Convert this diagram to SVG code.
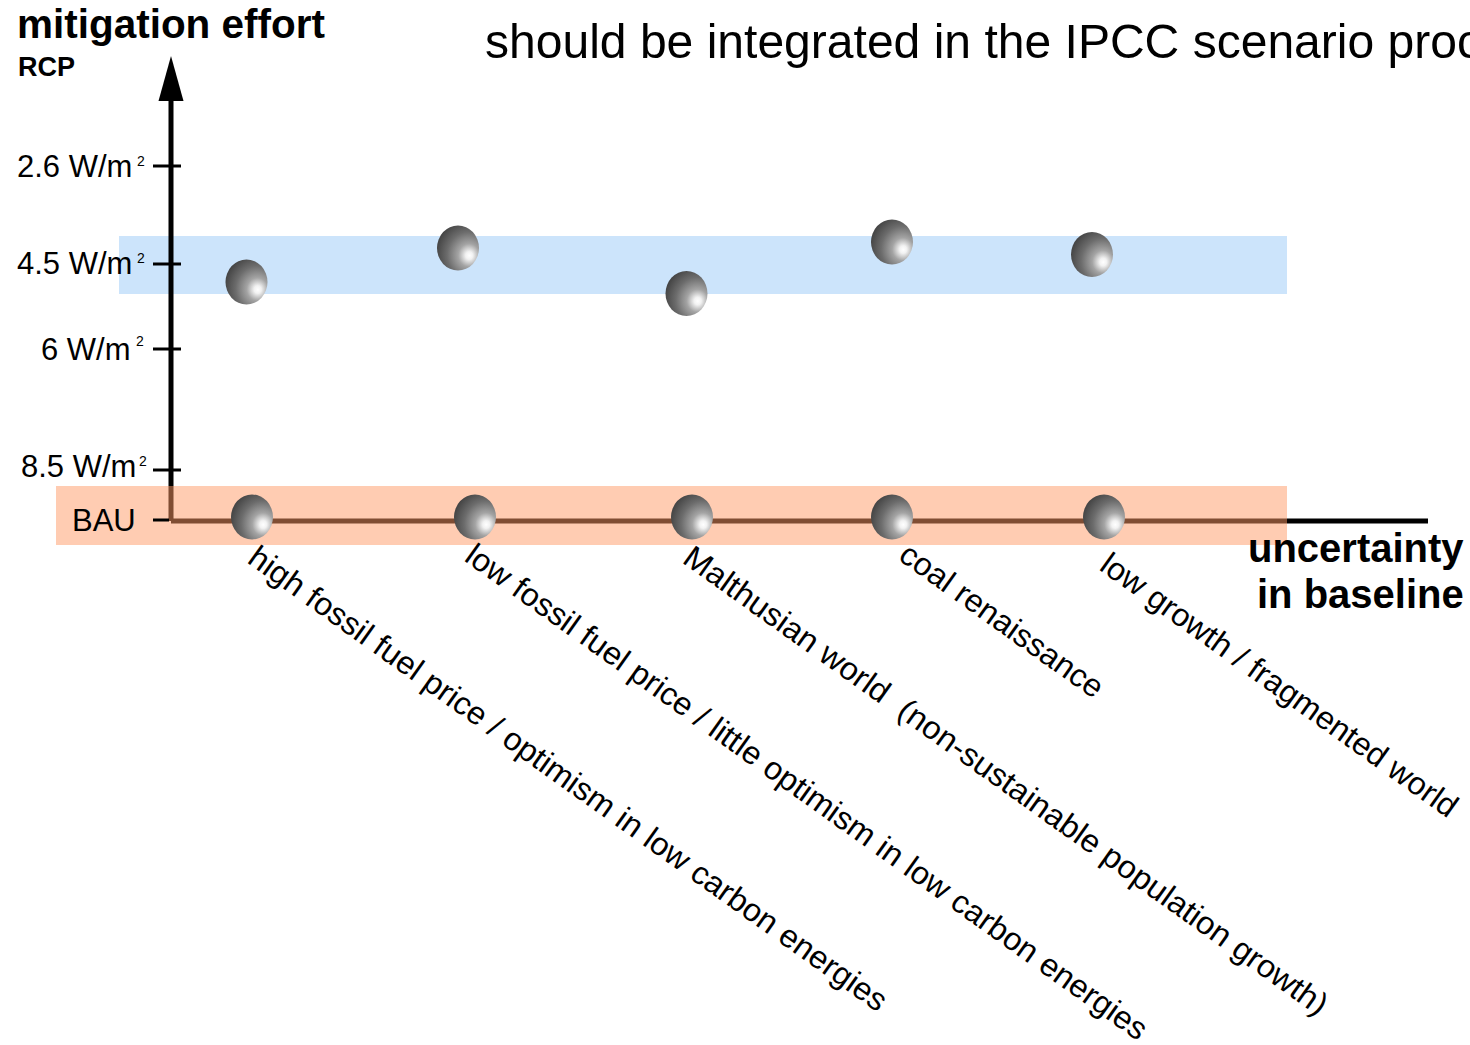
<svg xmlns="http://www.w3.org/2000/svg" width="1470" height="1045" viewBox="0 0 1470 1045">
<style>
.t{font-family:"Liberation Sans",Arial,sans-serif;fill:#000}
.b{font-weight:bold}
.ax{stroke:#000;stroke-width:5;fill:none}
.tk{stroke:#000;stroke-width:3;fill:none}
.lab{font-family:"Liberation Sans",Arial,sans-serif;font-size:31px;fill:#000}
.slab{font-family:"Liberation Sans",Arial,sans-serif;font-size:32px;fill:#000}
.sup{font-size:14px}
</style>
<defs>
<radialGradient id="ball" cx="0.74" cy="0.64" r="0.85" fx="0.77" fy="0.67">
<stop offset="0" stop-color="#ffffff"/>
<stop offset="0.1" stop-color="#f2f2f2"/>
<stop offset="0.3" stop-color="#a4a4a4"/>
<stop offset="0.6" stop-color="#6c6c6c"/>
<stop offset="1" stop-color="#383838"/>
</radialGradient>
</defs>
<rect width="1470" height="1045" fill="#fff"/>
<text class="t" x="485" y="58" font-size="48" textLength="996" lengthAdjust="spacingAndGlyphs">should be integrated in the IPCC scenario proc</text>
<text class="t b" x="17" y="38" font-size="40" textLength="308" lengthAdjust="spacingAndGlyphs">mitigation effort</text>
<text class="t b" x="18" y="76" font-size="27">RCP</text>
<rect id="band-rcp45" x="119" y="236" width="1168" height="58" fill="#cce4fb"/>
<g id="axes">
<line class="ax" x1="171" y1="521" x2="171" y2="95"/>
<polygon points="171,56 158.5,101 183.5,101" fill="#000"/>
<line class="ax" x1="171" y1="521" x2="1428" y2="521"/>
</g>
<rect id="band-bau" x="56" y="486" width="1231" height="59" fill="#ff9966" fill-opacity="0.5"/>
<g id="ticks">
<line class="tk" x1="153" y1="166" x2="181" y2="166"/>
<line class="tk" x1="153" y1="264" x2="181" y2="264"/>
<line class="tk" x1="153" y1="349" x2="181" y2="349"/>
<line class="tk" x1="153" y1="470" x2="181" y2="470"/>
<line class="tk" x1="153" y1="520" x2="169" y2="520"/>
</g>
<g id="ylabels" class="lab">
<text x="17" y="177">2.6 W/m<tspan class="sup" x="137" y="166">2</tspan></text>
<text x="17" y="274">4.5 W/m<tspan class="sup" x="137" y="263">2</tspan></text>
<text x="41" y="360">6 W/m<tspan class="sup" x="136" y="346">2</tspan></text>
<text x="21" y="477">8.5 W/m<tspan class="sup" x="139" y="466">2</tspan></text>
<text x="72" y="531">BAU</text>
</g>
<text class="t b" x="1248" y="562" font-size="40">uncertainty</text>
<text class="t b" x="1257" y="608" font-size="40">in baseline</text>
<g id="balls-bau" fill="url(#ball)">
<ellipse id="b1" cx="252" cy="517" rx="21" ry="22.5"/>
<ellipse id="b2" cx="475" cy="517" rx="21" ry="22.5"/>
<ellipse id="b3" cx="692" cy="517" rx="21" ry="22.5"/>
<ellipse id="b4" cx="892" cy="517" rx="21" ry="22.5"/>
<ellipse id="b5" cx="1104" cy="517" rx="21" ry="22.5"/>
</g>
<g id="balls-mit" fill="url(#ball)">
<ellipse id="m1" cx="246.5" cy="282" rx="21" ry="22.5"/>
<ellipse id="m2" cx="458" cy="248" rx="21" ry="22.5"/>
<ellipse id="m3" cx="686.5" cy="293.5" rx="21" ry="22.5"/>
<ellipse id="m4" cx="892" cy="242" rx="21" ry="22.5"/>
<ellipse id="m5" cx="1092" cy="254.5" rx="21" ry="22.5"/>
</g>
<g id="scenario-labels" class="slab">
<text transform="translate(246,562) rotate(35.5)" textLength="776" lengthAdjust="spacingAndGlyphs">high fossil fuel price / optimism in low carbon energies</text>
<text transform="translate(463,560) rotate(35.5)" textLength="829" lengthAdjust="spacingAndGlyphs">low fossil fuel price / little optimism in low carbon energies</text>
<text transform="translate(681,562) rotate(35.5)" xml:space="preserve" textLength="783" lengthAdjust="spacingAndGlyphs">Malthusian world  (non-sustainable population growth)</text>
<text transform="translate(897,559) rotate(35.5)" textLength="242" lengthAdjust="spacingAndGlyphs">coal renaissance</text>
<text transform="translate(1098,569) rotate(35.5)" textLength="430" lengthAdjust="spacingAndGlyphs">low growth / fragmented world</text>
</g>
</svg>
